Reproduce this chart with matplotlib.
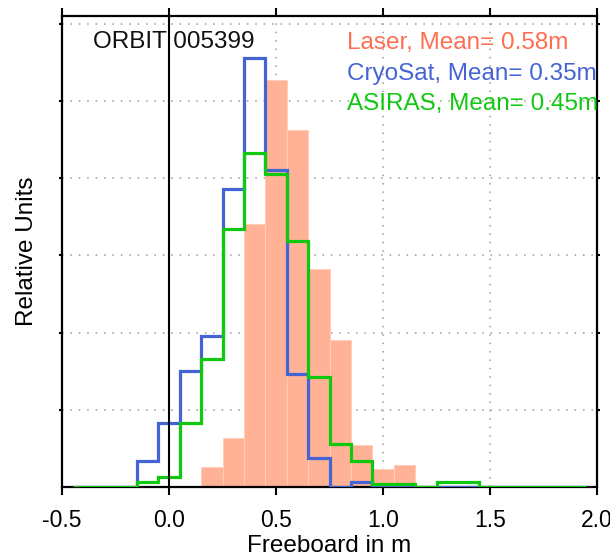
import numpy as np
import matplotlib
matplotlib.use("Agg")
import matplotlib.pyplot as plt

plt.rcParams['font.family'] = ['Liberation Sans', 'DejaVu Sans']

# ---- data ----
bin_edges = np.round(np.arange(-0.45, 1.951, 0.1), 2)   # 24 bins of 0.1 m
bin_centers = (bin_edges[:-1] + bin_edges[1:]) / 2

# bins centred at -0.4, -0.3, ..., 1.9
laser = [0, 0, 0, 0, 0, 0, 0.26, 0.64, 3.41, 5.27, 4.63, 2.82, 1.91, 0.55, 0.23, 0.28,
         0, 0, 0, 0, 0, 0, 0, 0]
cryosat = [0, 0, 0, 0.34, 0.83, 1.50, 1.96, 3.86, 5.55, 4.10, 1.46, 0.37, 0, 0.07, 0, 0,
           0, 0, 0, 0, 0, 0, 0, 0]
asiras = [0, 0, 0, 0.06, 0.13, 0.83, 1.66, 3.34, 4.32, 4.06, 3.19, 1.42, 0.56, 0.34, 0.04, 0.04,
          0, 0.06, 0.06, 0, 0, 0, 0, 0]

legend_labels = ["Laser, Mean= 0.58m", "CryoSat, Mean= 0.35m", "ASIRAS, Mean= 0.45m"]
orbit_label = "ORBIT 005399"
xticks = [-0.5, 0.0, 0.5, 1.0, 1.5, 2.0]
xticklabels = ["-0.5", "0.0", "0.5", "1.0", "1.5", "2.0"]
yticks = [1, 2, 3, 4, 5, 6]

# ---- colours ----
c_bar = '#FFB296'
c_laser_txt = '#FF6E50'
c_cryo = '#4464D6'
c_asiras = '#11C811'

W, H = 610, 560
fig = plt.figure(figsize=(W / 100, H / 100), dpi=100)
ax = fig.add_axes([62 / W, 1 - 487 / H, (597 - 62) / W, (487 - 16) / H])

ax.set_xlim(-0.5, 2.0)
ax.set_ylim(0, 6.1)

# grid
ax.set_axisbelow(True)
ax.grid(True, color='#9a9a9a', linestyle=(0, (1, 4.5)), linewidth=1.1)

# laser bars
laser_arr = np.array(laser)
mask = laser_arr > 0
ax.bar(bin_centers[mask], laser_arr[mask], width=0.1, color=c_bar,
       edgecolor='#FFCDBA', linewidth=0.7, zorder=2)

# step histograms
ax.stairs(cryosat, bin_edges, color=c_cryo, linewidth=2.3, zorder=3)
ax.stairs(asiras, bin_edges, color=c_asiras, linewidth=2.3, zorder=4)

# zero line
ax.axvline(0.0, color='black', linewidth=1.5, zorder=5)

# ticks
ax.set_xticks(xticks)
ax.set_xticklabels(xticklabels, fontsize=16.5)
ax.set_yticks(yticks)
ax.set_yticklabels([])
ax.tick_params(axis='x', which='both', direction='out', length=6, width=1.5,
               top=True, bottom=True, pad=10)
ax.tick_params(axis='y', which='both', direction='out', length=2.5, width=1.5,
               left=True, right=True)
for s in ax.spines.values():
    s.set_linewidth(1.6)
    s.set_zorder(2.5)

ax.set_xlabel("Freeboard in m", fontsize=17.5, labelpad=2)
ax.set_ylabel("Relative Units", fontsize=17.5, labelpad=11)

# texts
fig.text(93 / W, 1 - 48 / H, orbit_label, fontsize=17.5, color='#111111', va='baseline', ha='left')
txt_colors = [c_laser_txt, c_cryo, c_asiras]
baselines = [49, 80, 110]
for lab, col, yb in zip(legend_labels, txt_colors, baselines):
    fig.text(347 / W, 1 - yb / H, lab, fontsize=17.5, color=col, va='baseline', ha='left')

fig.savefig("out.png", dpi=100)
